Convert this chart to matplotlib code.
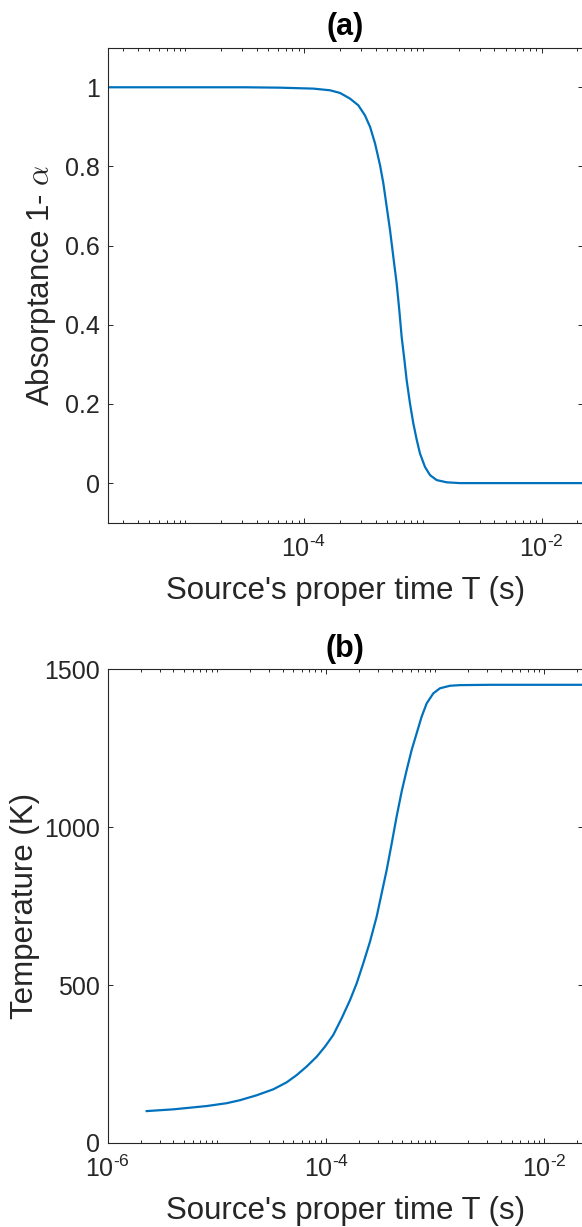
import numpy as np
import matplotlib
matplotlib.use("Agg")
import matplotlib.pyplot as plt
from matplotlib.ticker import FixedLocator, FuncFormatter, NullFormatter

plt.rcParams['font.family'] = ['Liberation Sans', 'DejaVu Sans']
plt.rcParams['mathtext.fontset'] = 'cm'

# ---------------- data ----------------
# panel (a): absorptance 1-alpha vs source's proper time (log10 of seconds)
log_time_a = [-5.652, -5.0, -4.5, -4.202, -3.921, -3.781, -3.697, -3.613, -3.543,
              -3.487, -3.444, -3.402, -3.360, -3.332, -3.304, -3.276, -3.248,
              -3.220, -3.198, -3.178, -3.155, -3.136, -3.108, -3.080, -3.051,
              -3.024, -2.982, -2.939, -2.883, -2.799, -2.687, -2.3, -1.652]
absorptance = [1.000, 1.000, 1.000, 0.999, 0.9966, 0.9924, 0.9857, 0.9714, 0.9545,
               0.929, 0.900, 0.858, 0.803, 0.757, 0.698, 0.639, 0.571,
               0.504, 0.437, 0.369, 0.311, 0.260, 0.201, 0.151, 0.109,
               0.075, 0.041, 0.020, 0.0076, 0.002, 0.0, 0.0, 0.0]

# panel (b): temperature vs source's proper time (log10 of seconds)
log_time_b = [-5.643, -5.399, -5.093, -4.910, -4.788, -4.636, -4.483, -4.361,
              -4.269, -4.178, -4.086, -4.010, -3.934, -3.857, -3.781, -3.720,
              -3.659, -3.598, -3.537, -3.491, -3.445, -3.399, -3.354, -3.308,
              -3.262, -3.216, -3.170, -3.125, -3.079, -3.018, -2.957, -2.865,
              -2.774, -2.5, -1.652]
temperature = [101, 106.5, 117, 126, 135.5, 151, 170, 192,
               215, 242, 273, 305, 342, 395, 452, 505,
               569, 637, 716, 790, 864, 948, 1033, 1112,
               1180, 1244, 1297, 1349, 1391, 1423, 1439, 1447,
               1449, 1450, 1450]

ytick_a = [0, 0.2, 0.4, 0.6, 0.8, 1]
ytick_a_labels = ['0', '0.2', '0.4', '0.6', '0.8', '1']
ytick_b = [0, 500, 1000, 1500]
ytick_b_labels = ['0', '500', '1000', '1500']
xtick_major = [1e-6, 1e-4, 1e-2]

titles = ['(a)', '(b)']
xlabel = "Source's proper time T (s)"
ylabel_a = r'Absorptance 1- $\alpha$'
ylabel_b = 'Temperature (K)'

# ---------------- styling ----------------
TXT = '#262626'
LINE = '#0072BD'

fig = plt.figure(figsize=(5.82, 12.27), dpi=100)
ax_a = fig.add_axes([0.18505, 0.57401, 0.81667, 0.38712])
ax_b = fig.add_axes([0.18505, 0.06846, 0.81667, 0.3863])

t_a = np.power(10.0, log_time_a)
t_b = np.power(10.0, log_time_b)

ax_a.plot(t_a, absorptance, color=LINE, lw=1.6, solid_joinstyle='round')
ax_b.plot(t_b, temperature, color=LINE, lw=1.6, solid_joinstyle='round')

minor_pos = [m * 10.0 ** k for k in range(-7, 1) for m in range(1, 10)
             if not (m == 1 and k in (-6, -4, -2))]


def fmt(x, pos):
    e = int(round(np.log10(x)))
    s = ('\u2010%d' % (-e)) if e < 0 else '%d' % e
    return r'$\mathdefault{10^{%s}}$' % s


for ax in (ax_a, ax_b):
    ax.set_xscale('log')
    ax.xaxis.set_major_locator(FixedLocator(xtick_major))
    ax.xaxis.set_minor_locator(FixedLocator(minor_pos))
    ax.xaxis.set_major_formatter(FuncFormatter(fmt))
    ax.xaxis.set_minor_formatter(NullFormatter())
    for s in ax.spines.values():
        s.set_color(TXT)
        s.set_linewidth(0.8)
    ax.tick_params(which='both', direction='in', top=True, right=True,
                   colors=TXT, labelcolor=TXT, width=0.7)
    ax.tick_params(which='major', length=3.6, labelsize=18)
    ax.tick_params(which='minor', length=2.0)
    ax.tick_params(axis='x', which='major', pad=9)
    ax.tick_params(axis='y', which='major', pad=5.5)
    ax.set_xlabel(xlabel, fontsize=22.5, color=TXT)

ax_a.set_xlim(10 ** -5.652, 10 ** -1.652)
ax_a.set_ylim(-0.1, 1.1)
ax_a.set_yticks(ytick_a)
ax_a.set_yticklabels(ytick_a_labels)
ax_a.set_ylabel(ylabel_a, fontsize=22.5, color=TXT)
ax_a.set_title(titles[0], fontsize=22, fontweight='bold', color='black', pad=9)

ax_b.set_xlim(1e-6, 10 ** -1.647)
ax_b.set_ylim(0, 1500)
ax_b.set_yticks(ytick_b)
ax_b.set_yticklabels(ytick_b_labels)
ax_b.set_ylabel(ylabel_b, fontsize=22.5, color=TXT)
ax_b.set_title(titles[1], fontsize=22, fontweight='bold', color='black', pad=9)

ax_a.xaxis.set_label_coords(0.5, -0.112)
ax_b.xaxis.set_label_coords(0.5, -0.112)
ax_a.yaxis.set_label_coords(-0.105, 0.5)
ax_b.yaxis.set_label_coords(-0.142, 0.5)

fig.savefig('out.png', dpi=100)
